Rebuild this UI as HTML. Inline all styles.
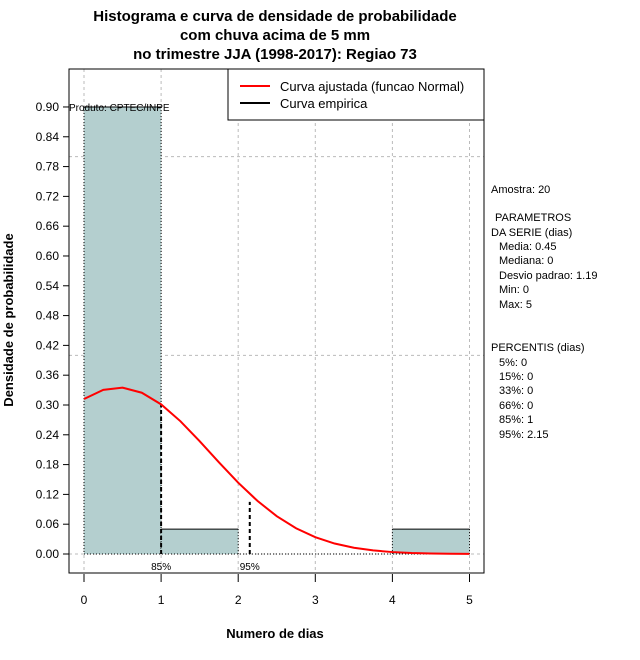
<!DOCTYPE html>
<html><head><meta charset="utf-8"><style>
body{margin:0;background:#fff;}
svg{display:block;font-family:"Liberation Sans",Arial,sans-serif;}
</style></head><body>
<svg id="chart" width="640" height="660" viewBox="0 0 640 660">
<g id="title" font-weight="bold" font-size="15" text-anchor="middle">
<text x="275" y="21">Histograma e curva de densidade de probabilidade</text>
<text x="275" y="40">com chuva acima de 5 mm</text>
<text x="275" y="59">no trimestre JJA (1998-2017): Regiao 73</text>
</g>
<g id="grid"></g>
<g id="bars"></g>
<g id="marks"></g>
<rect x="69" y="69" width="415" height="504" fill="none" stroke="#000"/>
<g id="yaxis" font-size="12"></g>
<g id="xaxis" font-size="12"></g>
<text transform="translate(13,320) rotate(-90)" text-anchor="middle" font-weight="bold" font-size="13">Densidade de probabilidade</text>
<text x="275" y="638" text-anchor="middle" font-weight="bold" font-size="13">Numero de dias</text>
<text x="69" y="111" font-size="10">Produto: CPTEC/INPE</text>
<g>
<rect x="228" y="69" width="256" height="51" fill="#fff" stroke="#000"/>
<line x1="240" y1="86" x2="270" y2="86" stroke="#f00" stroke-width="2"/>
<line x1="240" y1="103" x2="270" y2="103" stroke="#000" stroke-width="2"/>
<text x="280" y="91" font-size="13">Curva ajustada (funcao Normal)</text>
<text x="280" y="108" font-size="13">Curva empirica</text>
</g>
<g font-size="11">
<text x="491" y="193">Amostra: 20</text>
<text x="495" y="221">PARAMETROS</text>
<text x="491" y="236">DA SERIE (dias)</text>
<text x="499" y="250">Media: 0.45</text>
<text x="499" y="264">Mediana: 0</text>
<text x="499" y="279">Desvio padrao: 1.19</text>
<text x="499" y="293">Min: 0</text>
<text x="499" y="308">Max: 5</text>
<text x="491" y="351">PERCENTIS (dias)</text>
<text x="499" y="366">5%: 0</text>
<text x="499" y="380">15%: 0</text>
<text x="499" y="394">33%: 0</text>
<text x="499" y="409">66%: 0</text>
<text x="499" y="423">85%: 1</text>
<text x="499" y="438">95%: 2.15</text>
</g>
</svg>
<script>
const binStarts=[0,1,2,3,4];
const binDensity=[0.9,0.05,0,0,0.05];
const curveX=[0,0.25,0.5,0.75,1,1.25,1.5,1.75,2,2.25,2.5,2.75,3,3.25,3.5,3.75,4,4.25,4.5,4.75,5];
const curveY=[0.312,0.3305,0.3349,0.3247,0.3013,0.2674,0.2272,0.1846,0.1436,0.1069,0.0761,0.0518,0.0338,0.0211,0.0126,0.0072,0.0039,0.0020,0.0010,0.0005,0.0002];
const yTicks=[0,0.06,0.12,0.18,0.24,0.30,0.36,0.42,0.48,0.54,0.60,0.66,0.72,0.78,0.84,0.90];
const xTicks=[0,1,2,3,4,5];
const hGrid=[0,0.4,0.8];
const pctLabels=["85%","95%"];
const pctValues=[1,2.15];
const pctHeights=[0.30,0.105];
const NS="http://www.w3.org/2000/svg";
const X=v=>84+v*77.1;
const Y=v=>554-v*496.7;
function mk(tag,parent,attrs){const e=document.createElementNS(NS,tag);for(const k in attrs)e.setAttribute(k,attrs[k]);document.getElementById(parent).appendChild(e);return e;}
xTicks.forEach(v=>{const l=mk('line','grid',{x1:X(v),x2:X(v),y1:69,y2:573,stroke:'#bbb','stroke-dasharray':'3,3'});

});
hGrid.forEach(v=>{const l=mk('line','grid',{x1:69,x2:484,y1:Y(v),y2:Y(v),stroke:'#bbb','stroke-dasharray':'3,3'});

});
binStarts.forEach((s,i)=>{if(binDensity[i]<=0)return;
const r=mk('rect','bars',{x:X(s),y:Y(binDensity[i]),width:X(s+1)-X(s),height:Y(0)-Y(binDensity[i]),fill:'#b4cfcf'});


const t=mk('line','bars',{x1:X(s),x2:X(s+1),y1:Y(binDensity[i]),y2:Y(binDensity[i]),stroke:'#000'});


[s,s+1].forEach(e=>{const d=mk('line','bars',{x1:X(e),x2:X(e),y1:Y(binDensity[i]),y2:Y(0),stroke:'#000','stroke-dasharray':'1,2'});

});});
const base=mk('line','marks',{x1:X(0),x2:X(5),y1:Y(0),y2:Y(0),stroke:'#000','stroke-dasharray':'1,2'});


pctValues.forEach((v,i)=>{const l=mk('line','marks',{x1:X(v),x2:X(v),y1:Y(0),y2:Y(pctHeights[i]),stroke:'#000','stroke-width':2,'stroke-dasharray':'4,3'});


const t=mk('text','marks',{x:X(v),y:570,'text-anchor':'middle','font-size':10});t.textContent=pctLabels[i];

});
const p=mk('polyline','marks',{points:curveX.map((x,i)=>X(x)+','+Y(curveY[i])).join(' '),fill:'none',stroke:'#f00','stroke-width':2});


yTicks.forEach(v=>{const l=mk('line','yaxis',{x1:63,x2:69,y1:Y(v),y2:Y(v),stroke:'#000'});


const t=mk('text','yaxis',{x:59,y:Y(v)+4,'text-anchor':'end'});t.textContent=v.toFixed(2);

});
xTicks.forEach(v=>{const l=mk('line','xaxis',{x1:X(v),x2:X(v),y1:574,y2:582,stroke:'#000'});


const t=mk('text','xaxis',{x:X(v),y:604,'text-anchor':'middle'});t.textContent=v;

});
</script>
</body></html>
